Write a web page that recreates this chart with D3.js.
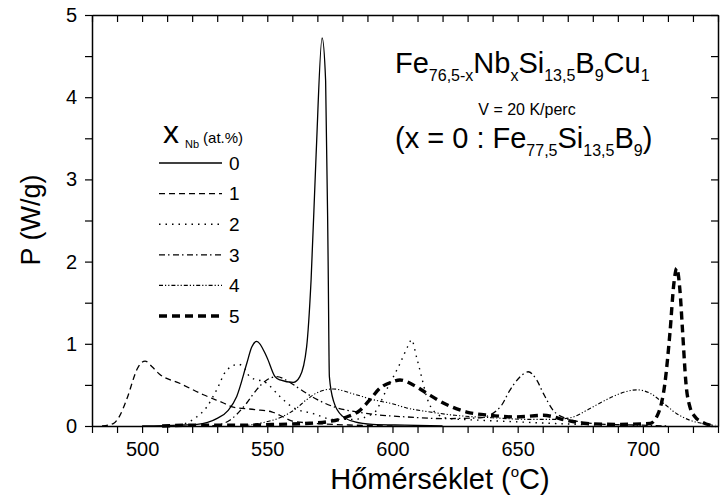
<!DOCTYPE html>
<html>
<head>
<meta charset="utf-8">
<script src="https://cdn.jsdelivr.net/npm/d3@7"></script>
<style>
  body { margin: 0; background: #fff; }
  svg { font-family: "Liberation Sans", Arial, sans-serif; }
</style>
</head>
<body>
<svg width="720" height="500"></svg>
<script>
// DSC curves, P (W/g) vs temperature, one array per Nb content
var s0 = [[500,0],[515,0.01],[522,0.02],[529.8,0.09],[534.4,0.19],[537.8,0.36],[541.8,0.76],[543.8,0.96],[545.8,1.03],[549.8,0.84],[553.1,0.6],[555.1,0.56],[560.4,0.53],[563,0.6],[565.7,0.96],[567.5,1.78],[569.5,3.3],[571.9,4.72],[573.3,4.2],[574.3,2.0],[574.8,0.6],[576.5,0.3],[580,0.12],[585,0.05],[592,0.02],[605,0.01],[620,0]];
var s1 = [[484,0],[488.5,0.03],[491,0.12],[493.8,0.32],[498.5,0.72],[501.2,0.79],[504,0.72],[507,0.63],[515,0.52],[524.5,0.38],[532.5,0.28],[536.4,0.23],[545,0.2],[552,0.17],[556.4,0.11],[560,0.06],[570,0.03],[585,0.01],[600,0]];
var s2 = [[512,0],[518,0.04],[521.8,0.11],[525.8,0.23],[529.8,0.44],[533.8,0.68],[538.5,0.75],[541,0.7],[543,0.6],[549.8,0.52],[555,0.36],[560,0.23],[568.4,0.15],[576.4,0.08],[584,0.08],[592.3,0.15],[597.6,0.44],[603,0.76],[606.3,0.98],[607.6,1.05],[609.6,0.84],[611.6,0.6],[613.6,0.36],[617.6,0.15],[623,0.09],[635,0.07],[650,0.05],[665,0.03],[685,0.01],[700,0]];
var s3 = [[528,0],[535,0.07],[541.8,0.28],[545.7,0.44],[549.8,0.56],[553.8,0.6],[558,0.55],[563,0.45],[570,0.32],[578,0.22],[586,0.17],[596,0.13],[606,0.11],[620,0.09],[635,0.1],[643,0.23],[647,0.44],[651,0.6],[654.2,0.66],[657.6,0.56],[660.2,0.4],[664.2,0.19],[669.5,0.09],[675,0.05],[685,0.02],[700,0.01],[710,0]];
var s4 = [[540,0],[548,0.04],[555,0.1],[561,0.2],[565.7,0.32],[571,0.42],[576.4,0.45],[584.4,0.39],[592.3,0.32],[600,0.27],[605.6,0.22],[615,0.17],[625,0.13],[640,0.1],[655,0.08],[665,0.08],[672.2,0.11],[677.5,0.19],[682.9,0.28],[688.2,0.36],[693.5,0.42],[697.5,0.44],[702.8,0.4],[708.1,0.28],[713.5,0.15],[718.8,0.07],[724.1,0.03],[728,0.01]];
var s5 = [[508,0],[520,0.01],[540,0.01],[555,0.02],[565,0.03],[573.7,0.05],[581.7,0.11],[587,0.19],[591,0.32],[595,0.46],[600.3,0.54],[603,0.56],[608.3,0.5],[613.6,0.4],[620.3,0.28],[629.6,0.17],[638.9,0.13],[649.5,0.11],[660.2,0.13],[669.5,0.07],[677.5,0.03],[689.5,0.02],[702.8,0.03],[706.1,0.15],[708.8,0.52],[710.8,1.13],[712.4,1.74],[713.5,1.92],[714.8,1.65],[715.9,1.13],[717.2,0.52],[718.8,0.23],[720.9,0.11],[723.5,0.05],[726.8,0.01],[729,0]];

var series = [s0, s1, s2, s3, s4, s5];
var nbLabels = ["0", "1", "2", "3", "4", "5"];
var xMajor = [500, 550, 600, 650, 700];
var yMajor = [0, 1, 2, 3, 4, 5];

// line styles per series
var dashes = [null, "6,4", "1.5,5", "6,3,1.5,3.5", "4,2,1.2,2,1.2,2", "8,5"];
var widths = [1.3, 1.3, 1.4, 1.3, 1.1, 3.4];

var svg = d3.select("svg");
// note: "top" is taken by window.top, so use plot* names
var plotL = 92, plotR = 718, plotT = 15, plotB = 426;

var x = d3.scaleLinear().domain([480, 730]).range([plotL, plotR]);
var y = d3.scaleLinear().domain([0, 5]).range([plotB, plotT]);

var xTicks = d3.range(480, 731, 10);
var yTicks = d3.range(0, 5.01, 0.5);

// axes (bottom/left ticks out, top/right ticks in)
svg.append("g").attr("transform", "translate(0," + plotB + ")")
  .call(d3.axisBottom(x).tickValues(xTicks).tickSize(7).tickSizeOuter(0).tickPadding(9)
    .tickFormat(function(d) { return xMajor.indexOf(d) >= 0 ? d : ""; }));
svg.append("g").attr("transform", "translate(" + plotL + ",0)")
  .call(d3.axisLeft(y).tickValues(yTicks).tickSize(7).tickSizeOuter(0).tickPadding(8)
    .tickFormat(function(d) { return yMajor.indexOf(d) >= 0 ? d : ""; }));
svg.append("g").attr("transform", "translate(0," + plotT + ")")
  .call(d3.axisTop(x).tickValues(xTicks).tickSize(-7).tickSizeOuter(0).tickFormat(""));
svg.append("g").attr("transform", "translate(" + plotR + ",0)")
  .call(d3.axisRight(y).tickValues(yTicks).tickSize(-7).tickSizeOuter(0).tickFormat(""));

svg.selectAll(".domain").attr("stroke", "#000").attr("stroke-width", 1.5);
svg.selectAll(".tick line").attr("stroke", "#000").attr("stroke-width", 1.2);
svg.selectAll(".tick text").attr("font-size", 20).attr("fill", "#000")
  .attr("font-family", "Liberation Sans, Arial, sans-serif");

// curves
var line = d3.line()
  .x(function(d) { return x(d[0]); })
  .y(function(d) { return y(d[1]); })
  .curve(d3.curveMonotoneX);

series.forEach(function(s, i) {
  svg.append("path").datum(s)
    .attr("d", line)
    .attr("fill", "none")
    .attr("stroke", "#000")
    .attr("stroke-width", widths[i])
    .attr("stroke-dasharray", dashes[i]);
});

// legend
var lg = svg.append("g");
var hdr = lg.append("text").attr("x", 163).attr("y", 143).attr("fill", "#000");
hdr.append("tspan").attr("font-size", 32).text("x");
hdr.append("tspan").attr("font-size", 11).attr("dx", 6).attr("dy", 5).text("Nb");
hdr.append("tspan").attr("font-size", 15).attr("dx", 4).attr("dy", -5).text("(at.%)");

nbLabels.forEach(function(lab, i) {
  var ly = 163 + i * 30.6;
  lg.append("line").attr("x1", 159).attr("x2", 222).attr("y1", ly).attr("y2", ly)
    .attr("stroke", "#000").attr("stroke-width", widths[i])
    .attr("stroke-dasharray", dashes[i]);
  lg.append("text").attr("x", 229).attr("y", ly).attr("dy", "0.36em")
    .attr("font-size", 19).attr("fill", "#000").text(lab);
});

// composition text
function formula(xp, yp, size, subSize, parts) {
  var t = svg.append("text").attr("x", xp).attr("y", yp).attr("font-size", size).attr("fill", "#000");
  var down = 0;
  parts.forEach(function(p) {
    var sp = t.append("tspan").text(p[0]);
    if (p[1]) {
      sp.attr("font-size", subSize).attr("dy", 8 - down);
      down = 8;
    } else {
      sp.attr("dy", -down);
      down = 0;
    }
  });
  return t;
}

formula(395, 73, 29, 16, [["Fe"], ["76,5-x", 1], ["Nb"], ["x", 1], ["Si"], ["13,5", 1], ["B"], ["9", 1], ["Cu"], ["1", 1]]);
svg.append("text").attr("x", 527).attr("y", 115).attr("text-anchor", "middle")
  .attr("font-size", 16).attr("fill", "#000").text("V = 20 K/perc");
formula(395, 148, 29, 16, [["(x = 0 : Fe"], ["77,5", 1], ["Si"], ["13,5", 1], ["B"], ["9", 1], [")"]]);

// axis titles
var xt = svg.append("text").attr("x", 440).attr("y", 489).attr("text-anchor", "middle")
  .attr("font-size", 29).attr("fill", "#000");
xt.append("tspan").text("Hőmérséklet (");
xt.append("tspan").attr("font-size", 15).attr("dy", -12).text("o");
xt.append("tspan").attr("dy", 12).text("C)");

svg.append("text").attr("transform", "translate(40,220) rotate(-90)")
  .attr("text-anchor", "middle").attr("font-size", 27).attr("fill", "#000")
  .text("P (W/g)");
</script>
</body>
</html>
